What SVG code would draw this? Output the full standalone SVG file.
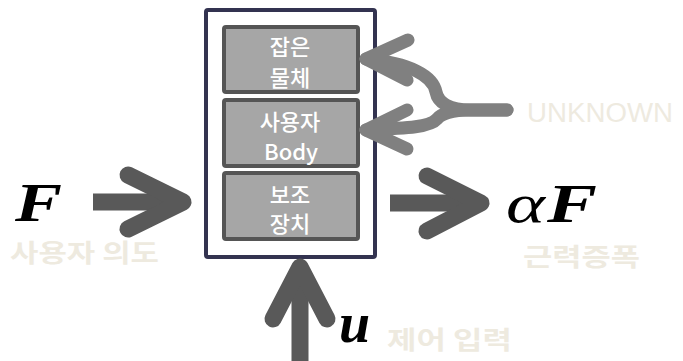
<svg xmlns="http://www.w3.org/2000/svg" width="683" height="361" viewBox="0 0 683 361">
<style>
.box{fill:#a6a6a6;stroke:#555555;stroke-width:4}
.bt{fill:#ffffff;font-family:"Noto Sans CJK KR","Noto Sans",sans-serif;font-size:22px;font-weight:500;text-anchor:middle;dominant-baseline:central}
.lt{fill:#eeeadf;font-family:"Noto Sans CJK KR","Noto Sans",sans-serif;font-weight:bold;font-size:25px}
.math{fill:#000;font-family:"Liberation Serif","DejaVu Serif",serif;font-style:italic}
.big{fill:none;stroke:#595959;stroke-width:17}
.unk{fill:none;stroke:#808080;stroke-width:13;stroke-linecap:round;stroke-linejoin:round}
</style>
<rect width="683" height="361" fill="#ffffff"/>
<g id="system">
<rect x="206" y="10" width="169" height="247" rx="2" fill="#ffffff" stroke="#333350" stroke-width="4"/>
</g>
<g id="object">
<rect class="box" x="224" y="27" width="134" height="65" rx="2"/>
<text class="bt" x="290" y="45">잡은</text>
<text class="bt" x="290" y="76">물체</text>
</g>
<g id="body">
<rect class="box" x="224" y="100" width="134" height="66" rx="2"/>
<text class="bt" x="290" y="120">사용자</text>
<text class="bt" x="291" y="150" font-size="21">Body</text>
</g>
<g id="device">
<rect class="box" x="224" y="173" width="134" height="66" rx="2"/>
<text class="bt" x="290" y="193">보조</text>
<text class="bt" x="290" y="222">장치</text>
</g>
<g id="connectors">
<line class="big" x1="93" y1="202" x2="183" y2="202"/>
<polyline class="big" points="128,175 183,202 128,229" stroke-linecap="round" stroke-linejoin="round"/>
<line class="big" x1="390" y1="203" x2="481" y2="203"/>
<polyline class="big" points="427,176 481,203 427,231" stroke-linecap="round" stroke-linejoin="round"/>
<line class="big" x1="300" y1="361" x2="300" y2="268"/>
<polyline class="big" points="273,319 300,267 327,319" stroke-linecap="round" stroke-linejoin="round"/>
<path class="unk" d="M507,110 L470,110 C450,110 438,103 436,92 C433,76 410,63 366,59" stroke-linecap="butt"/>
<polyline class="unk" points="408,40 366,59 407,80"/>
<path class="unk" d="M507,110 L470,110 C452,110 441,114 437,119 C430,127 410,128 366,130" stroke-linecap="butt"/>
<polyline class="unk" points="407,110 366,130 407,149"/>
</g>
<g id="labels">
<text class="math" x="15" y="221" font-size="54" font-weight="bold" textLength="47" lengthAdjust="spacingAndGlyphs">F</text>
<text class="lt" x="10" y="262" textLength="149" lengthAdjust="spacingAndGlyphs">사용자 의도</text>
<text class="math" x="506" y="222" font-size="54" textLength="39" lengthAdjust="spacingAndGlyphs">α</text>
<text class="math" x="547" y="222" font-size="54" font-weight="bold" textLength="50" lengthAdjust="spacingAndGlyphs">F</text>
<text class="lt" x="523" y="266" textLength="117" lengthAdjust="spacingAndGlyphs">근력증폭</text>
<text class="math" x="339" y="342" font-size="56" font-weight="bold">u</text>
<text class="lt" x="387" y="349" textLength="125" lengthAdjust="spacingAndGlyphs">제어 입력</text>
<text x="527" y="122" fill="#eeeadf" font-family="Liberation Sans,Arial,sans-serif" font-size="27" textLength="146" lengthAdjust="spacingAndGlyphs">UNKNOWN</text>
</g>
</svg>
